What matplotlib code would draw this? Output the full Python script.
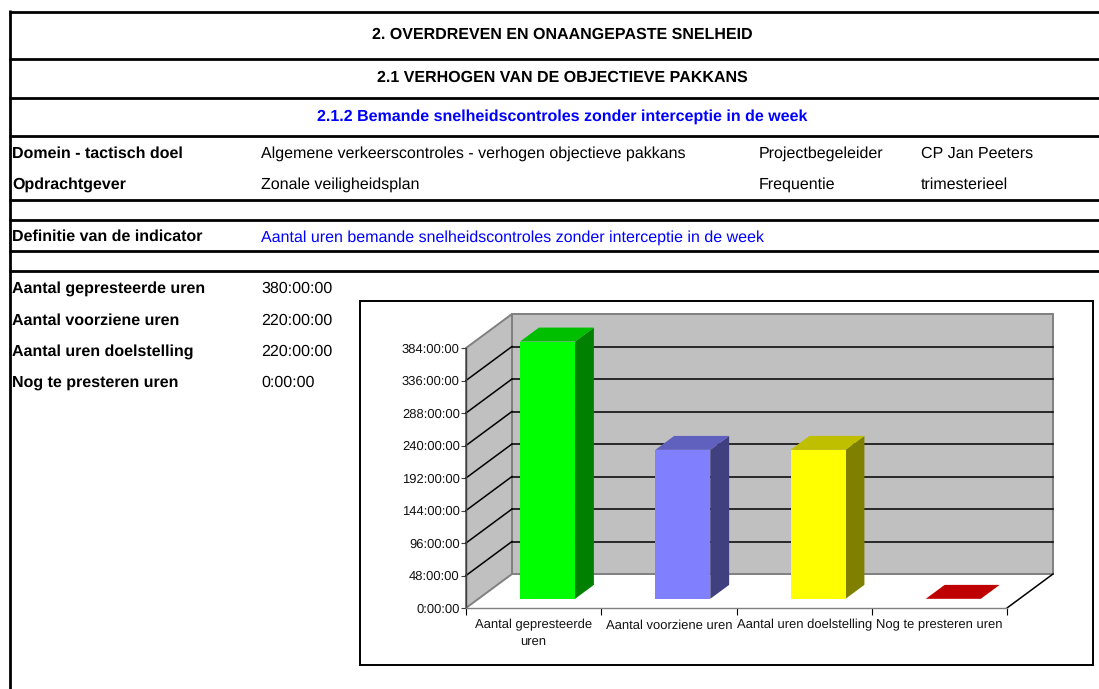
import matplotlib
matplotlib.use("Agg")
import matplotlib.pyplot as plt
from matplotlib.patches import Polygon, Rectangle

plt.rcParams['font.family'] = ['Liberation Sans', 'DejaVu Sans']
plt.rcParams['text.hinting'] = 'no_hinting'
plt.rcParams['text.hinting_factor'] = 1

categories = ["Aantal gepresteerde\nuren", "Aantal voorziene uren", "Aantal uren doelstelling", "Nog te presteren uren"]
values = [380, 220, 220, 0]
y_ticks = [0, 48, 96, 144, 192, 240, 288, 336, 384]
front_colors = ["#00ff00", "#8080ff", "#ffff00", "#ff0000"]
top_colors = ["#00bf00", "#6060bf", "#bfbf00", "#bf0000"]
side_colors = ["#008000", "#404080", "#808000", "#800000"]

titles = ["2. OVERDREVEN EN ONAANGEPASTE SNELHEID", "2.1 VERHOGEN VAN DE OBJECTIEVE PAKKANS",
          "2.1.2 Bemande snelheidscontroles zonder interceptie in de week"]
title_y = [35, 78, 117]
title_colors = ["black", "black", "#0000ff"]
rule_y = [11.5, 58.5, 97.5, 136, 199.5, 219.5, 251, 271]

W, H = 1099, 689
fig = plt.figure(figsize=(W / 100, H / 100), dpi=100)

# page layer in pixels, used for the table around the chart
page = fig.add_axes([0, 0, 1, 1])
page.set_xlim(0, W)
page.set_ylim(H, 0)
page.axis('off')

for y in rule_y:
    page.plot([8.5, W], [y, y], color='black', lw=2.0, solid_capstyle='butt')
page.plot([9.5, 9.5], [10, H], color='black', lw=2.0, solid_capstyle='butt')

fs = 11.7
for t, y, c in zip(titles, title_y, title_colors):
    page.text(562, y, t, ha='center', va='center', fontsize=fs, fontweight='bold', color=c)

left_rows = [("Domein - tactisch doel", 154), ("Opdrachtgever", 185), ("Definitie van de indicator", 236.5),
             ("Aantal gepresteerde uren", 289), ("Aantal voorziene uren", 320.5),
             ("Aantal uren doelstelling", 352), ("Nog te presteren uren", 383)]
for t, y in left_rows:
    page.text(12, y, t, va='center', fontsize=fs, fontweight='bold')

mid_rows = [("Algemene verkeerscontroles - verhogen objectieve pakkans", 154, 'black'),
            ("Zonale veiligheidsplan", 185, 'black'),
            ("Aantal uren bemande snelheidscontroles zonder interceptie in de week", 237.5, '#0000ff'),
            ("380:00:00", 289, 'black'), ("220:00:00", 320.5, 'black'),
            ("220:00:00", 352, 'black'), ("0:00:00", 383, 'black')]
for t, y, c in mid_rows:
    page.text(261, y, t, va='center', fontsize=fs, color=c)

page.text(759, 154, "Projectbegeleider", va='center', fontsize=fs)
page.text(759, 185, "Frequentie", va='center', fontsize=fs)
page.text(921, 154, "CP Jan Peeters", va='center', fontsize=fs)
page.text(921, 185, "trimesterieel", va='center', fontsize=fs)

page.add_patch(Rectangle((360, 300.5), 733, 364, fc='white', ec='black', lw=1.4))

# chart axes sit on the front plane, depth is sheared on top of the data coords
x0, x1, y0, y1 = 466, 1007, 608, 348
ax = fig.add_axes([x0 / W, 1 - y0 / H, (x1 - x0) / W, (y0 - y1) / H])
ax.set_xlim(0, 4)
ax.set_ylim(0, 384)
ax.patch.set_alpha(0)

dx = 46 / ((x1 - x0) / 4)
dy = 34 / ((y0 - y1) / 384)


def p(x, y, z):
    return (x + dx * z, y + dy * z)


def poly(pts, fc, ec='none', lw=0, zorder=1):
    ax.add_patch(Polygon(pts, closed=True, fc=fc, ec=ec, lw=lw, zorder=zorder, clip_on=False))


top = y_ticks[-1]
poly([p(0, 0, 0), p(4, 0, 0), p(4, 0, 1), p(0, 0, 1)], 'white', zorder=1)
poly([p(0, 0, 1), p(4, 0, 1), p(4, top, 1), p(0, top, 1)], '#c0c0c0', ec='#808080', lw=1.4, zorder=1)
poly([p(0, 0, 0), p(0, 0, 1), p(0, top, 1), p(0, top, 0)], '#c0c0c0', ec='#808080', lw=1.4, zorder=1)

for v in y_ticks[1:-1]:
    a, b = p(0, v, 1), p(4, v, 1)
    ax.plot([a[0], b[0]], [a[1], b[1]], color='black', lw=1.1, zorder=2, clip_on=False)
    a, b = p(0, v, 0), p(0, v, 1)
    ax.plot([a[0], b[0]], [a[1], b[1]], color='black', lw=1.1, zorder=2, clip_on=False)

a, b = p(4, 0, 0), p(4, 0, 1)
ax.plot([a[0], b[0]], [a[1], b[1]], color='black', lw=1.1, zorder=2, clip_on=False)

z_a, z_b = 0.27, 0.68
half = 27.5 / ((x1 - x0) / 4)
for i, v in enumerate(values):
    c = i + 0.511
    l, r = c - half, c + half
    poly([p(r, 0, z_a), p(r, 0, z_b), p(r, v, z_b), p(r, v, z_a)], side_colors[i], zorder=3)
    poly([p(l, v, z_a), p(r, v, z_a), p(r, v, z_b), p(l, v, z_b)], top_colors[i], zorder=3)
    poly([p(l, 0, z_a), p(r, 0, z_a), p(r, v, z_a), p(l, v, z_a)], front_colors[i], zorder=4)

for s in ['top', 'right']:
    ax.spines[s].set_visible(False)
ax.spines['left'].set_color('#404040')
ax.spines['bottom'].set_color('#808080')
ax.spines['left'].set_linewidth(1.0)
ax.spines['bottom'].set_linewidth(1.0)

ax.set_yticks(y_ticks)
ax.set_yticklabels([f"{h}:00:00" for h in y_ticks], fontsize=9.5, color='#111111')
ax.tick_params(axis='y', length=3.5, width=0.8, pad=1, color='#404040')
ax.set_xticks(range(5))
ax.set_xticklabels([])
ax.tick_params(axis='x', which='major', length=5, width=0.8, color='black')
ax.set_xticks([0.5, 1.5, 2.5, 3.5], minor=True)
ax.set_xticklabels(categories, minor=True, fontsize=9.1, color='#111111', linespacing=1.45)
ax.tick_params(axis='x', which='minor', length=0, pad=8)

fig.savefig("out.png", dpi=100)
